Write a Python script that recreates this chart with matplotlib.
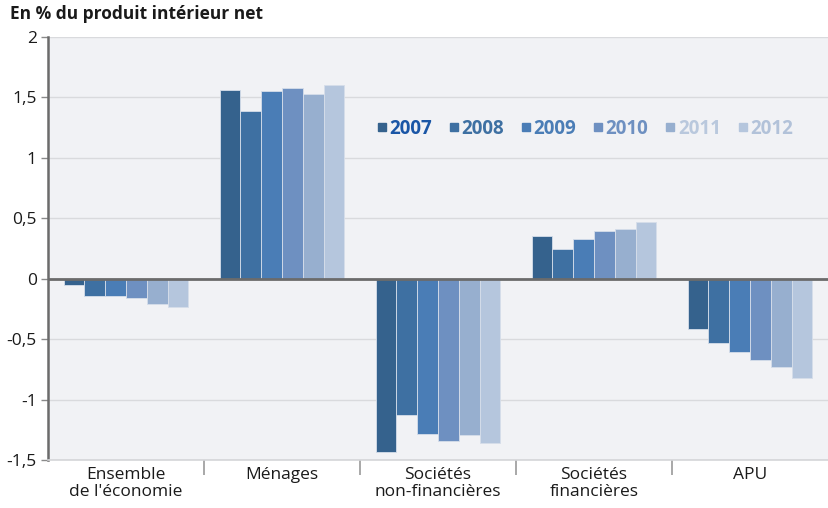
import numpy as np
import matplotlib
matplotlib.use("Agg")
import matplotlib.pyplot as plt
from matplotlib.lines import Line2D
from matplotlib.ticker import FixedLocator

plt.rcParams['font.family'] = ['Open Sans', 'DejaVu Sans']

# Data (% of net domestic product)
categories = ["Ensemble\nde l'économie", "Ménages", "Sociétés\nnon-financières",
              "Sociétés\nfinancières", "APU"]
years = ["2007", "2008", "2009", "2010", "2011", "2012"]
values = {
    "2007": [-0.05, 1.565, -1.43, 0.355, -0.417],
    "2008": [-0.14, 1.39, -1.13, 0.245, -0.53],
    "2009": [-0.14, 1.55, -1.285, 0.325, -0.61],
    "2010": [-0.16, 1.58, -1.343, 0.395, -0.67],
    "2011": [-0.207, 1.53, -1.29, 0.415, -0.727],
    "2012": [-0.237, 1.605, -1.36, 0.47, -0.823],
}
yticks = [-1.5, -1, -0.5, 0, 0.5, 1, 1.5, 2]
ytick_labels = ["-1,5", "-1", "-0,5", "0", "0,5", "1", "1,5", "2"]

bar_colors = ["#35628d", "#3e70a2", "#4a7db6", "#6e90c1", "#97afcf", "#b5c6dd"]
text_colors = ["#1a56a6", "#3e70a2", "#4a7db6", "#6e90c1", "#b9c8dd", "#b2c2d9"]

fig = plt.figure(figsize=(8.29, 5.08), dpi=100)
fig.patch.set_facecolor("white")
ax = fig.add_axes([48 / 829, 1 - 460 / 508, 780 / 829, 423 / 508])
ax.set_facecolor("#f1f2f5")

x = np.arange(len(categories))
group_w = 0.8
bar_w = group_w / len(years)
for i, year in enumerate(years):
    offs = -group_w / 2 + bar_w * (i + 0.5)
    ax.bar(x + offs, values[year], width=bar_w, color=bar_colors[i],
           edgecolor="#d6deea", linewidth=0.6, zorder=3)

ax.set_xlim(-0.5, len(categories) - 0.5)
ax.set_ylim(-1.5, 2)

ax.set_yticks(yticks)
ax.set_yticklabels(ytick_labels, fontsize=12.5, color="#1a1a1a")
ax.tick_params(axis="y", length=5, width=1, color="#8a8a8a", pad=3)
ax.grid(axis="y", color="#d9dadd", linewidth=1, zorder=0)
ax.axhline(0, color="#6b6b6b", linewidth=2, zorder=4)

ax.set_xticks(x)
ax.set_xticklabels(categories, fontsize=12.5, color="#1a1a1a", linespacing=1.05)
ax.tick_params(axis="x", which="major", length=0, pad=5)
ax.xaxis.set_minor_locator(FixedLocator(x[:-1] + 0.5))
ax.tick_params(axis="x", which="minor", length=11, width=1.2, color="#9a9a9a")

for side in ["top", "right"]:
    ax.spines[side].set_visible(False)
ax.spines["left"].set_color("#6b6b6b")
ax.spines["left"].set_linewidth(1.8)
ax.spines["bottom"].set_color("#d4d5d8")
ax.spines["bottom"].set_linewidth(1.2)

handles = [Line2D([], [], marker="s", linestyle="none", markersize=6,
                  markerfacecolor=c, markeredgecolor=c) for c in bar_colors]
leg = ax.legend(handles, years, ncol=6, frameon=False, loc="center left",
                bbox_to_anchor=(377 / 829, 1 - 129 / 508), bbox_transform=fig.transFigure,
                borderaxespad=0, borderpad=0,
                handlelength=0.5, handletextpad=0.15, columnspacing=0.92,
                prop={"weight": "bold", "size": 13.5})
for t, c in zip(leg.get_texts(), text_colors):
    t.set_color(c)

fig.text(10 / 829, 1 - 14 / 508, "En % du produit intérieur net", fontsize=12.5,
         fontweight="bold", color="#1a1a1a", va="center", ha="left")

fig.savefig("out.png", dpi=100, facecolor="white")
